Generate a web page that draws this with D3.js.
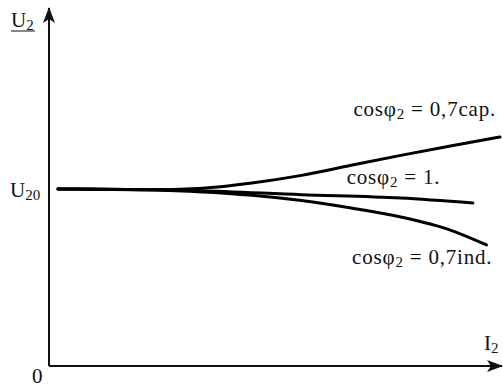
<!DOCTYPE html>
<html lang="en">
<head>
  <meta charset="UTF-8">
  <title>U2 vs I2</title>
  <script src="https://d3js.org/d3.v7.min.js"></script>
  <style>
    body { margin: 0; background: #fff; }
    text { font-family: "Liberation Serif", "Times New Roman", serif; fill: #111; }
  </style>
</head>
<body>
  <div id="chart"></div>
  <script>
    // load current I2 (relative units) and terminal voltage U2 (U20 = 1)
    const capI = [0.02, 0.22, 0.33, 0.45, 0.56, 0.67, 0.78, 0.89, 1.0];
    const capU = [1.0, 0.996, 1.003, 1.034, 1.077, 1.134, 1.19, 1.243, 1.294];

    const unityI = [0.02, 0.22, 0.33, 0.56, 0.78, 0.94];
    const unityU = [1.0, 0.996, 0.99, 0.968, 0.949, 0.921];

    const indI = [0.02, 0.22, 0.33, 0.45, 0.56, 0.67, 0.78, 0.89, 0.97];
    const indU = [1.0, 0.996, 0.985, 0.965, 0.935, 0.893, 0.842, 0.768, 0.684];

    const labels = [
      { main: "cos\u03c6", sub: "2", rest: " = 0,7cap.", I: 0.675, U: 1.41 },
      { main: "cos\u03c6", sub: "2", rest: " = 1.", I: 0.66, U: 1.03 },
      { main: "cos\u03c6", sub: "2", rest: " = 0,7ind.", I: 0.672, U: 0.578 }
    ];

    const width = 503, height = 387;

    const svg = d3.select("#chart")
      .append("svg")
      .attr("width", width)
      .attr("height", height);

    const x = d3.scaleLinear().domain([0, 1]).range([49, 500]);
    const y = d3.scaleLinear().domain([0, 1]).range([366, 189]);

    // arrow marker
    svg.append("defs").append("marker")
      .attr("id", "arrow")
      .attr("viewBox", "0 0 16 12")
      .attr("refX", 15)
      .attr("refY", 6)
      .attr("markerWidth", 16)
      .attr("markerHeight", 12)
      .attr("markerUnits", "userSpaceOnUse")
      .attr("orient", "auto")
      .append("path")
      .attr("d", "M0,0 L16,6 L0,12 L4,6 Z")
      .attr("fill", "#111");

    // axes
    svg.append("line")
      .attr("x1", x(0)).attr("y1", y(0))
      .attr("x2", x(0)).attr("y2", 8)
      .attr("stroke", "#111").attr("stroke-width", 2)
      .attr("marker-end", "url(#arrow)");
    svg.append("line")
      .attr("x1", x(0)).attr("y1", y(0))
      .attr("x2", 502).attr("y2", y(0))
      .attr("stroke", "#111").attr("stroke-width", 2)
      .attr("marker-end", "url(#arrow)");

    // curves
    const line = d3.line()
      .x(d => x(d[0]))
      .y(d => y(d[1]))
      .curve(d3.curveMonotoneX);

    const series = [
      d3.zip(capI, capU),
      d3.zip(unityI, unityU),
      d3.zip(indI, indU)
    ];

    svg.selectAll(".curve")
      .data(series)
      .join("path")
      .attr("class", "curve")
      .attr("fill", "none")
      .attr("stroke", "#000")
      .attr("stroke-width", 3)
      .attr("stroke-linecap", "round")
      .attr("d", line);

    // curve labels
    const lab = svg.selectAll(".lab")
      .data(labels)
      .join("text")
      .attr("class", "lab")
      .attr("x", d => x(d.I))
      .attr("y", d => y(d.U))
      .attr("font-size", 21)
      .attr("letter-spacing", 0.8);
    lab.append("tspan").text(d => d.main);
    lab.append("tspan").attr("font-size", 15).attr("dy", 3).text(d => d.sub);
    lab.append("tspan").attr("dy", -3).text(d => d.rest);

    // axis labels
    const u2 = svg.append("text").attr("x", 11).attr("y", 27).attr("font-size", 21);
    u2.append("tspan").text("U");
    u2.append("tspan").attr("font-size", 15).attr("dy", 3).text("2");
    svg.append("line")
      .attr("x1", 11).attr("x2", 35)
      .attr("y1", 31).attr("y2", 31)
      .attr("stroke", "#111").attr("stroke-width", 1);

    const u20 = svg.append("text").attr("x", 10).attr("y", 197).attr("font-size", 21);
    u20.append("tspan").text("U");
    u20.append("tspan").attr("font-size", 15).attr("dy", 3).text("20");

    const i2 = svg.append("text").attr("x", 484).attr("y", 350).attr("font-size", 21);
    i2.append("tspan").text("I");
    i2.append("tspan").attr("font-size", 15).attr("dy", 3).text("2");

    svg.append("text")
      .attr("x", 32).attr("y", 383)
      .attr("font-size", 21)
      .text("0");
  </script>
</body>
</html>
